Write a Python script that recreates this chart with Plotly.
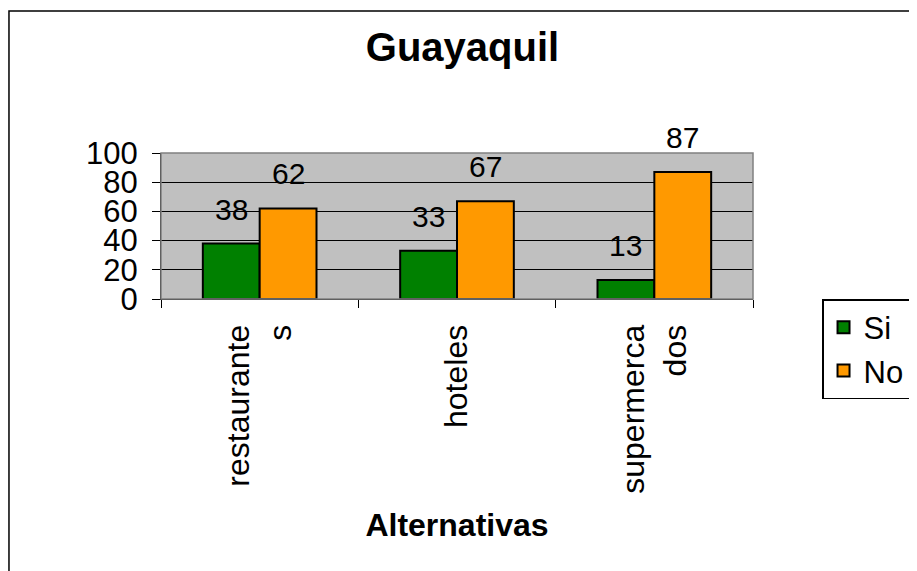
import plotly.graph_objects as go

categorias = ['restaurante<br>s', 'hoteles', 'supermerca<br>dos']
si = [38, 33, 13]
no = [62, 67, 87]
ticks_y = [0, 20, 40, 60, 80, 100]

font = 'Liberation Sans, Arial, sans-serif'

fig = go.Figure()
fig.add_trace(go.Bar(x=categorias, y=si, name='Si',
                     marker=dict(color='#008000', line=dict(color='black', width=2))))
fig.add_trace(go.Bar(x=categorias, y=no, name='No',
                     marker=dict(color='#FF9900', line=dict(color='black', width=2))))

# etiquetas de valores encima de las barras
for i, c in enumerate(categorias):
    fig.add_annotation(x=c, y=si[i], text=str(si[i]), showarrow=False,
                       xshift=-28.5, yshift=16, yanchor='bottom',
                       font=dict(size=30, color='black'))
    fig.add_annotation(x=c, y=no[i], text=str(no[i]), showarrow=False,
                       xshift=28.5, yshift=16, yanchor='bottom',
                       font=dict(size=30, color='black'))

# borde exterior del grafico
fig.add_shape(type='rect', xref='paper', yref='paper',
              x0=-0.2568, x1=1.3, y0=-1.95, y1=1.9726,
              line=dict(color='black', width=1.5), layer='below')

fig.update_layout(
    width=909, height=563,
    margin=dict(l=153, r=164, t=145, b=272, autoexpand=False),
    paper_bgcolor='white', plot_bgcolor='#C0C0C0',
    font=dict(family=font, color='black', size=30),
    title=dict(text='<b>Guayaquil</b>', x=0.5, xanchor='center', y=0.9307, yanchor='middle',
               font=dict(size=40)),
    barmode='group', bargap=0.424, bargroupgap=0,
    showlegend=True,
    legend=dict(x=1.1166, xanchor='left', y=0.0, yanchor='top',
                bordercolor='black', borderwidth=1.5, bgcolor='white',
                font=dict(size=31), itemwidth=30),
    xaxis=dict(title=dict(text='<b>Alternativas</b>', font=dict(size=32), standoff=20),
               tickangle=-90, tickfont=dict(size=32), showline=True, linecolor='black',
               linewidth=1, ticks='outside', tickson='boundaries', ticklen=8,
               tickcolor='black', mirror=False, showgrid=False, ticklabelstandoff=12),
    yaxis=dict(range=[0, 100], tickvals=ticks_y, tickfont=dict(size=31), showline=True,
               linecolor='black', linewidth=1, ticks='outside', ticklen=8,
               tickcolor='black', gridcolor='black', gridwidth=1, zeroline=False,
               ticklabelstandoff=8),
)
fig.add_shape(type='rect', xref='paper', yref='paper', x0=0, x1=1, y0=0, y1=1,
              line=dict(color='#808080', width=1.5))

fig.write_html('out.html')
